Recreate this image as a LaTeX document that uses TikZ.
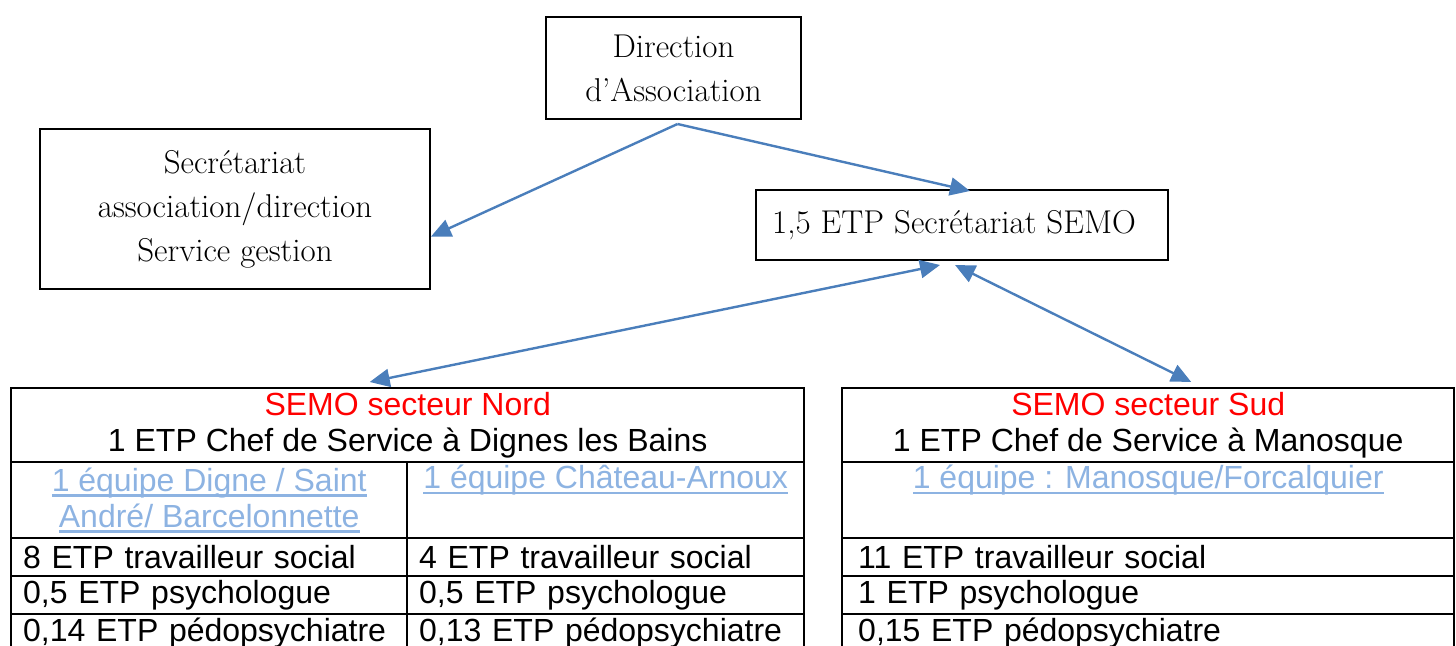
\documentclass[tikz,border=0pt]{standalone}
\usepackage{fontspec}
\setsansfont{Liberation Sans}
\usetikzlibrary{arrows.meta}
\definecolor{linkblue}{HTML}{4A7EBB}
\definecolor{semored}{HTML}{FF0000}
\definecolor{teamblue}{HTML}{8DB3E2}
\newcommand{\team}[1]{{\color{teamblue}\setbox0=\hbox{#1}\rlap{\rule[-2.8pt]{\wd0}{1.3pt}}\box0}}

\begin{document}
\begin{tikzpicture}[x=.5pt,y=-.5pt]
      \tikzstyle{box}=[draw, line width=1pt, align=center, inner sep=0pt, font=\fontsize{16.5}{22}\selectfont]
      \tikzstyle{cell}=[draw, line width=1.2pt, anchor=north west, inner sep=0pt]
      \tikzstyle{head}=[cell, align=center, font=\sffamily\fontsize{16}{18}\selectfont]
      \tikzstyle{row}=[cell, minimum height=19pt, align=left, inner xsep=6pt, font=\sffamily\fontsize{16}{18}\selectfont]
      \tikzstyle{link}=[color=linkblue, line width=1.2pt, -{Triangle[length=10pt,width=9pt]}]
      \useasboundingbox (0,0) rectangle (1456,646);
      % 
      \node [box, minimum width=127.5pt, minimum height=51pt] (dir)  at (673.5,68) {Direction\\d’Association};
      \node [box, minimum width=195pt, minimum height=80pt]   (secr) at (235,209)  {Secrétariat\\association/direction\\Service gestion};
      \node [box, minimum width=206pt, minimum height=35pt]   (semo) at (962,225)  {1,5 ETP Secrétariat SEMO\hspace*{8pt}};
      % 
      \node [head, minimum width=396.5pt, minimum height=37pt] (nordhead) at (10,387)
            {{\color{semored}SEMO secteur Nord}\\1 ETP Chef de Service à Dignes les Bains};
      \node [head, minimum width=198pt, minimum height=38pt]   (nordteamA) at (10,461)
            {\team{1 équipe Digne / Saint}\\\team{André/ Barcelonnette}};
      \node [head, minimum width=198.5pt, minimum height=38pt] (nordteamB) at (406,461)
            {\team{1 équipe Château-Arnoux}\\\strut};
      \node [row, text width=186pt]   (nordA1) at (10,537)  {8 ETP travailleur social};
      \node [row, text width=186pt]   (nordA2) at (10,575)  {0,5 ETP psychologue};
      \node [row, text width=186pt]   (nordA3) at (10,613)  {0,14 ETP pédopsychiatre};
      \node [row, text width=186.5pt] (nordB1) at (406,537) {4 ETP travailleur social};
      \node [row, text width=186.5pt] (nordB2) at (406,575) {0,5 ETP psychologue};
      \node [row, text width=186.5pt] (nordB3) at (406,613) {0,13 ETP pédopsychiatre};
      % 
      \node [head, minimum width=306pt, minimum height=37pt] (sudhead) at (841,387)
            {{\color{semored}SEMO secteur Sud}\\1 ETP Chef de Service à Manosque};
      \node [head, minimum width=306pt, minimum height=38pt] (sudteam) at (841,461)
            {\team{1 équipe : Manosque/Forcalquier}\\\strut};
      \node [row, text width=290pt, inner xsep=8pt] (sud1) at (841,537) {11 ETP travailleur social};
      \node [row, text width=290pt, inner xsep=8pt] (sud2) at (841,575) {1 ETP psychologue};
      \node [row, text width=290pt, inner xsep=8pt] (sud3) at (841,613) {0,15 ETP pédopsychiatre};
      % 
      \path [link]
      ([xshift=2pt,yshift=-2pt]dir.south) edge (secr.-8.5)
      ([xshift=2pt,yshift=-2pt]dir.south) edge ([xshift=4pt,yshift=-1pt]semo.north);
      \path [link, {Triangle[length=10pt,width=9pt]}-{Triangle[length=10pt,width=9pt]}]
      ([xshift=-11pt,yshift=-2pt]semo.south) edge ([xshift=-19pt,yshift=2.5pt]nordhead.north)
      ([xshift=-3.5pt,yshift=-2pt]semo.south) edge ([xshift=21.5pt,yshift=2.5pt]sudhead.north);
\end{tikzpicture}
\end{document}
